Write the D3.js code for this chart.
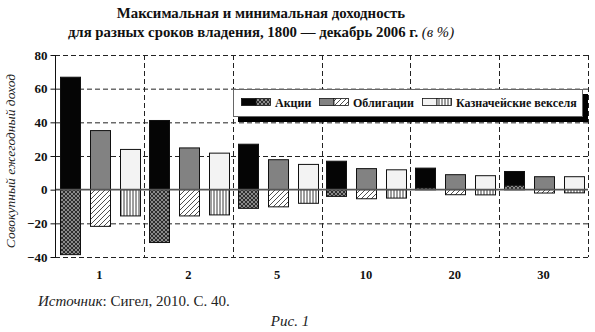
<!DOCTYPE html>
<html><head><meta charset="utf-8">
<script src="https://cdn.jsdelivr.net/npm/d3@7"></script>
<style>body{margin:0;background:#fff}svg{display:block}</style>
</head><body>
<svg id="c" width="595" height="332"></svg>
<script>
const periods = ["1","2","5","10","20","30"];
const stocksMax = [66.8, 41.1, 27.0, 16.9, 12.8, 10.8];
const stocksMin = [-38.6, -31.4, -11.1, -4.0, 1.0, 2.6];
const bondsMax = [35.1, 24.8, 17.8, 12.5, 8.9, 7.7];
const bondsMin = [-21.8, -15.6, -10.2, -5.4, -3.0, -2.0];
const billsMax = [23.9, 21.7, 15.0, 11.8, 8.3, 7.7];
const billsMin = [-15.6, -15.0, -8.1, -5.0, -3.1, -1.9];
const yTicks = [-40, -20, 0, 20, 40, 60, 80];
const seriesNames = ["Акции", "Облигации", "Казначейские векселя"];

const svg = d3.select("#c");
const serif = "'Liberation Serif','DejaVu Serif',serif";
const defs = svg.append("defs");

// patterns
const pc = defs.append("pattern").attr("id","cross").attr("patternUnits","userSpaceOnUse").attr("width",4).attr("height",4);
pc.append("rect").attr("width",4).attr("height",4).attr("fill","#8a8a8a");
pc.append("path").attr("d","M0,0L4,4M4,0L0,4").attr("stroke","#222").attr("stroke-width",0.9);
const pd = defs.append("pattern").attr("id","diag").attr("patternUnits","userSpaceOnUse").attr("width",5).attr("height",5);
pd.append("rect").attr("width",5).attr("height",5).attr("fill","#fff");
pd.append("path").attr("d","M-1,6L6,-1M-1,1L1,-1M4,6L6,4").attr("stroke","#222").attr("stroke-width",0.8);
const pv = defs.append("pattern").attr("id","vert").attr("patternUnits","userSpaceOnUse").attr("width",3).attr("height",3);
pv.append("rect").attr("width",3).attr("height",3).attr("fill","#fff");
pv.append("path").attr("d","M1,0L1,3").attr("stroke","#222").attr("stroke-width",0.9);

const maxFill = ["#050505", "#828282", "#f3f3f3"];
const minFill = ["url(#cross)", "url(#diag)", "url(#vert)"];

const x = d3.scaleBand().domain(periods).range([55, 588]);
const xi = d3.scaleBand().domain([0,1,2]).range([0, x.bandwidth()]).paddingInner(1/3).paddingOuter(0.147).align(0.55);
const y = d3.scaleLinear().domain([-40, 80]).range([257, 55]);

// title
const t = svg.append("text").attr("x", 261).attr("y", 18).attr("text-anchor","middle")
  .attr("font-family", serif).attr("font-weight","bold").attr("font-size", 14.8).attr("fill","#111");
t.text("Максимальная и минимальная доходность");
const t2 = svg.append("text").attr("x", 261).attr("y", 37).attr("text-anchor","middle")
  .attr("font-family", serif).attr("font-size", 14.8).attr("fill","#111");
t2.append("tspan").attr("font-weight","bold").text("для разных сроков владения, 1800 — декабрь 2006 г. ");
t2.append("tspan").attr("font-style","italic").text("(в %)");

// grid
const g = svg.append("g");
g.selectAll("line.h").data(yTicks.filter(d => d !== 0)).join("line")
  .attr("x1", 55).attr("x2", 588).attr("y1", d => y(d)+0.5).attr("y2", d => y(d)+0.5)
  .attr("stroke","#222").attr("stroke-width",1).attr("stroke-dasharray","5,3");
const bounds = periods.map(p => x(p) + x.bandwidth());
g.selectAll("line.v").data(bounds).join("line")
  .attr("x1", d => Math.round(d)+0.5).attr("x2", d => Math.round(d)+0.5).attr("y1", y(80)).attr("y2", y(-40))
  .attr("stroke","#222").attr("stroke-width",1).attr("stroke-dasharray","5,3");

// bars
const series = [[stocksMax, stocksMin],[bondsMax, bondsMin],[billsMax, billsMin]];
const bars = [];
periods.forEach((p, i) => series.forEach((s, k) => bars.push({p, k, max: s[0][i], min: s[1][i]})));
const bg = svg.append("g");
bg.selectAll("rect.mx").data(bars).join("rect")
  .attr("x", d => Math.round(x(d.p) + xi(d.k)) + 0.5)
  .attr("width", Math.round(xi.bandwidth()))
  .attr("y", d => y(d.max)).attr("height", d => y(0) - y(d.max))
  .attr("fill", d => maxFill[d.k]).attr("stroke","#111").attr("stroke-width",1);
bg.selectAll("rect.mn").data(bars).join("rect")
  .attr("x", d => Math.round(x(d.p) + xi(d.k)) + 0.5)
  .attr("width", Math.round(xi.bandwidth()))
  .attr("y", d => Math.min(y(0), y(d.min))).attr("height", d => Math.abs(y(d.min) - y(0)))
  .attr("fill", d => minFill[d.k]).attr("stroke","#111").attr("stroke-width",1);

// zero line
svg.append("line").attr("x1",55).attr("x2",588).attr("y1",y(0)).attr("y2",y(0))
  .attr("stroke","#555").attr("stroke-width",1.6);

// y axis
const ax = svg.append("g").attr("transform","translate(55.5,0)")
  .call(d3.axisLeft(y).tickValues(yTicks).tickSize(5).tickFormat(d => d < 0 ? "−" + Math.abs(d) : d));
ax.select(".domain").attr("stroke","#111").attr("d", `M0,${y(80)}V${y(-40)}`);
ax.selectAll(".tick line").attr("stroke","#111");
ax.selectAll(".tick text").attr("font-family", serif).attr("font-weight","bold").attr("font-size",13).attr("fill","#111").attr("x",-8);

// y label
svg.append("text").attr("transform","translate(15,161) rotate(-90)").attr("text-anchor","middle")
  .attr("font-family", serif).attr("font-style","italic").attr("font-size",13.5).attr("fill","#222")
  .text("Совокупный ежегодный доход");

// x labels
svg.append("g").selectAll("text").data(periods).join("text")
  .attr("x", d => x(d) + x.bandwidth()/2).attr("y", 279).attr("text-anchor","middle")
  .attr("font-family", serif).attr("font-weight","bold").attr("font-size",12.5).attr("fill","#111").text(d => d);

// legend
const lg = svg.append("g");
lg.append("rect").attr("x",238).attr("y",94).attr("width",350).attr("height",28).attr("fill","#000");
lg.append("rect").attr("x",233.5).attr("y",89.5).attr("width",349).attr("height",27).attr("fill","#fff").attr("stroke","#666").attr("stroke-width",1);
const lx = [241, 319, 422];
seriesNames.forEach((nm, k) => {
  lg.append("rect").attr("x", lx[k]+0.5).attr("y", 98.5).attr("width", 14.5).attr("height", 7).attr("fill", maxFill[k]).attr("stroke","#111").attr("stroke-width",0.8);
  lg.append("rect").attr("x", lx[k]+15).attr("y", 98.5).attr("width", 14.5).attr("height", 7).attr("fill", minFill[k]).attr("stroke","#111").attr("stroke-width",0.8);
  lg.append("text").attr("x", lx[k]+34).attr("y", 106.5).attr("font-family", serif).attr("font-weight","bold").attr("font-size",12).attr("fill","#111").text(nm);
});

// source & caption
const src = svg.append("text").attr("x", 38).attr("y", 306).attr("font-family", serif).attr("font-size",15).attr("fill","#222");
src.append("tspan").attr("font-style","italic").text("Источник");
src.append("tspan").text(": Сигел, 2010. С. 40.");
svg.append("text").attr("x", 290).attr("y", 326).attr("text-anchor","middle").attr("font-family", serif).attr("font-style","italic").attr("font-size",15).attr("fill","#222").text("Рис. 1");
</script>
</body></html>
